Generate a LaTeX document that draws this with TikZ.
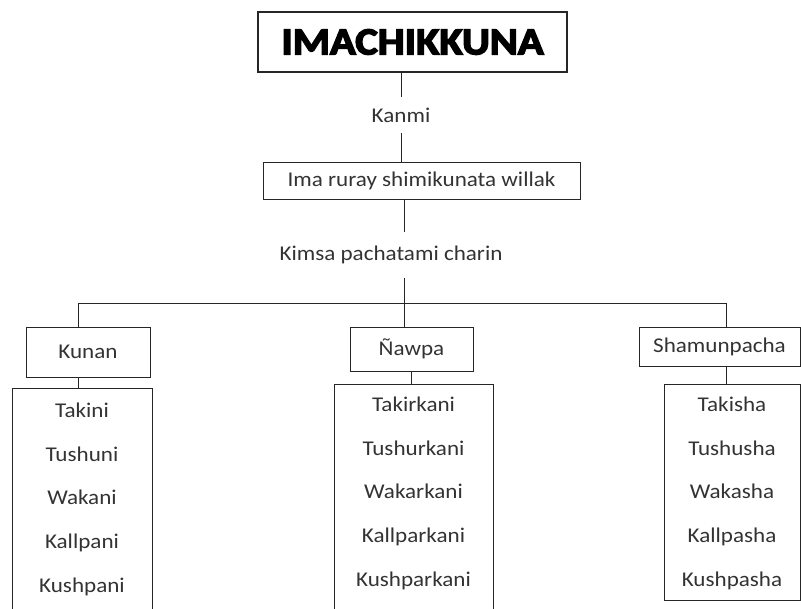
\documentclass[tikz,border=0pt]{standalone}
\usepackage{fontspec}
\setmainfont{Carlito}[FakeStretch=1.1]
\usepackage{tikz}
\usetikzlibrary{positioning}

\begin{document}
\begin{tikzpicture}[x=1pt,y=-1pt,
  box/.style = {draw=black!85,line width=0.9pt,inner sep=0pt,align=center},
  word/.style = {inner sep=0pt,align=center,text=black!80,font=\fontsize{21}{25}\selectfont},
  listbox/.style = {draw=black!85,line width=0.9pt,inner sep=0pt,anchor=north},
  items/.style = {inner sep=0pt,anchor=north,align=center,text=black!80,font=\fontsize{21}{43.6}\selectfont}]

\useasboundingbox (0,0) rectangle (801,609);
\clip (0,0) rectangle (801,609);

\node[box,line width=1.2pt,minimum width=309,minimum height=60,
  font={\fontspec{Carlito}[FakeBold=4,FakeStretch=1.12]\fontsize{38}{40}\selectfont\bfseries}] (title) at (412.5,42) {IMACHIKKUNA};

\node[word,minimum height=36] (kanmi) at (401,115) {Kanmi};
\node[box,word,draw=black!85,minimum width=317,minimum height=37] (willak) at (421.5,180.5) {Ima ruray shimikunata willak};
\node[word,minimum height=46] (kimsa) at (391,255) {Kimsa pachatami charin};

\coordinate (hub) at (404,303);
\coordinate (lt) at (78,303);
\coordinate (rt) at (726,303);

\node[box,word,draw=black!85,minimum width=124,minimum height=50] (kunan) at (88,352) {Kunan};
\node[box,word,draw=black!85,minimum width=123,minimum height=44] (nawpa) at (411.5,349) {Ñawpa};
\node[box,word,draw=black!85,minimum width=161,minimum height=39] (shamun) at (719.5,346.5) {Shamunpacha};

\node[listbox,minimum width=140,minimum height=240] (kunanlist) at (82,388) {};
\node[listbox,minimum width=159,minimum height=240] (nawpalist) at (413.5,384) {};
\node[listbox,minimum width=136,minimum height=216] (shamunlist) at (732,384) {};

\node[items] (kunanitems) at ([yshift=-15]kunanlist.north) {Takini\\Tushuni\\Wakani\\Kallpani\\Kushpani};
\node[items] (nawpaitems) at ([yshift=-13]nawpalist.north) {Takirkani\\Tushurkani\\Wakarkani\\Kallparkani\\Kushparkani};
\node[items] (shamunitems) at ([yshift=-13]shamunlist.north) {Takisha\\Tushusha\\Wakasha\\Kallpasha\\Kushpasha};

\draw[black!85,line width=0.9pt] (kanmi.north) to (kanmi.north |- title.south);
\draw[black!85,line width=0.9pt] (kanmi.south) to (kanmi.south |- willak.north);
\draw[black!85,line width=0.9pt] (kimsa.north -| hub) to (hub |- willak.south);
\draw[black!85,line width=0.9pt] (kimsa.south -| hub) to (hub);
\draw[black!85,line width=0.9pt] (lt |- kunan.north) to (lt) to (rt) to (rt |- shamun.north);
\draw[black!85,line width=0.9pt] (hub) to (hub |- nawpa.north);

\draw[black!85,line width=0.9pt] (lt |- kunan.south) to (lt |- kunanlist.north);
\draw[black!85,line width=0.9pt] (nawpa.south) to (nawpa.south |- nawpalist.north);
\draw[black!85,line width=0.9pt] (rt |- shamun.south) to (rt |- shamunlist.north);
\end{tikzpicture}
\end{document}
